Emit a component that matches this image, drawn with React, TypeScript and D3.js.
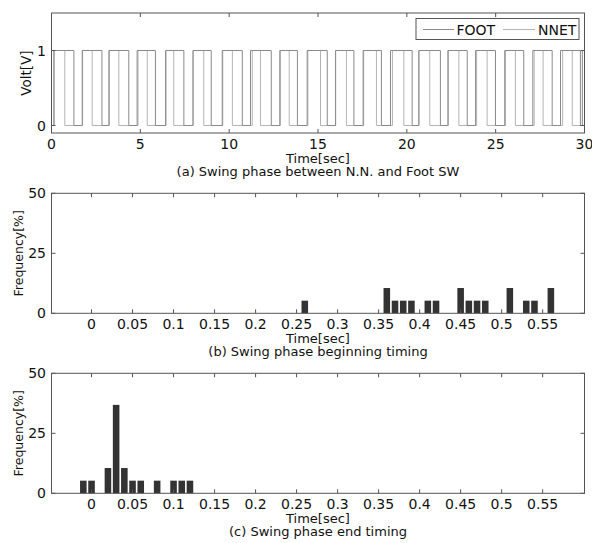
import React from "react";
import * as d3 from "d3";

// ---- Panel (a) data: square-wave edge times [sec] ----
const footRise = [0.13, 1.73, 3.23, 4.82, 6.42, 7.97, 9.61, 11.2, 12.85, 14.39, 15.99, 17.54, 19.08, 20.67, 22.31, 23.87, 25.51, 27.09, 28.65, 29.88];
const footFall = [1.26, 2.84, 4.35, 5.85, 7.45, 8.99, 10.74, 12.37, 13.84, 15.52, 17.02, 18.57, 20.3, 21.89, 23.4, 24.99, 26.58, 28.18, 29.77, 30];
const nnetRise = [0.16, 1.75, 3.26, 4.87, 6.45, 7.96, 9.64, 11.3, 12.88, 14.43, 15.99, 17.57, 19.19, 20.69, 22.34, 23.93, 25.55, 27.17, 28.77];
const nnetFall = [0.75, 2.29, 3.79, 5.39, 6.88, 8.57, 10.18, 11.76, 13.38, 15.14, 16.6, 18.29, 19.83, 21.29, 22.93, 24.52, 26.11, 27.67, 29.31];
const voltTicks = [0, 1];
const timeTicksA = [0, 5, 10, 15, 20, 25, 30];

// ---- Panel (b) data ----
const beginBins = [0.26, 0.36, 0.37, 0.38, 0.39, 0.41, 0.42, 0.45, 0.46, 0.47, 0.48, 0.51, 0.53, 0.54, 0.56];
const beginFreq = [5.26, 10.53, 5.26, 5.26, 5.26, 5.26, 5.26, 10.53, 5.26, 5.26, 5.26, 10.53, 5.26, 5.26, 10.53];

// ---- Panel (c) data ----
const endBins = [-0.01, 0, 0.02, 0.03, 0.04, 0.05, 0.06, 0.08, 0.1, 0.11, 0.12];
const endFreq = [5.26, 5.26, 10.53, 36.84, 10.53, 5.26, 5.26, 5.26, 5.26, 5.26, 5.26];

const freqTicks = [0, 25, 50];
const timeTicksH = [0, 0.05, 0.1, 0.15, 0.2, 0.25, 0.3, 0.35, 0.4, 0.45, 0.5, 0.55];

const FONT = "'DejaVu Sans', 'Liberation Sans', sans-serif";
const BOX = "#555";
const LEFT = 51.5;
const RIGHT = 584.5;
const TICK = 4;

function stepPoints(rise: number[], fall: number[]): [number, number][] {
  const pts: [number, number][] = [[0, 0]];
  rise.forEach((r, i) => {
    const f = fall[i];
    pts.push([r, 0], [r, 1], [f, 1], [f, 0]);
  });
  pts.push([30, 0]);
  return pts;
}

function Frame({ x, y, top, bottom, xTicks, yTicks, xFmt, yLabel, caption }: any) {
  return (
    <g>
      <rect x={LEFT} y={top} width={RIGHT - LEFT} height={bottom - top} fill="none" stroke={BOX} strokeWidth={1} />
      {xTicks.map((t: number, i: number) => (
        <g key={"xt" + i}>
          <line x1={x(t)} x2={x(t)} y1={bottom} y2={bottom - TICK} stroke={BOX} />
          <line x1={x(t)} x2={x(t)} y1={top} y2={top + TICK} stroke={BOX} />
          <text x={x(t)} y={bottom + 15.5} textAnchor="middle" fontSize={14} fontFamily={FONT} fill="#111">
            {xFmt(t)}
          </text>
        </g>
      ))}
      {yTicks.map((t: number, i: number) => (
        <g key={"yt" + i}>
          <line x1={LEFT} x2={LEFT + TICK} y1={y(t)} y2={y(t)} stroke={BOX} />
          <line x1={RIGHT} x2={RIGHT - TICK} y1={y(t)} y2={y(t)} stroke={BOX} />
          <text x={46} y={y(t) + 5} textAnchor="end" fontSize={14} fontFamily={FONT} fill="#111">
            {t}
          </text>
        </g>
      ))}
      <text
        transform={`translate(${yLabel.x},${(top + bottom) / 2}) rotate(-90)`}
        textAnchor="middle"
        fontSize={yLabel.size}
        fontFamily={FONT}
        fill="#111"
      >
        {yLabel.text}
      </text>
      <text x={(LEFT + RIGHT) / 2} y={bottom + 29.5} textAnchor="middle" fontSize={13} fontFamily={FONT} fill="#111">
        Time[sec]
      </text>
      <text x={(LEFT + RIGHT) / 2} y={bottom + 43} textAnchor="middle" fontSize={13} fontFamily={FONT} fill="#111">
        {caption}
      </text>
    </g>
  );
}

function Hist({ top, bottom, bins, freq, caption }: any) {
  const x = d3.scaleLinear().domain([-0.0488, 0.601]).range([LEFT, RIGHT]);
  const y = d3.scaleLinear().domain([0, 50]).range([bottom, top]);
  const binW = 0.01;
  const barW = (x(binW) - x(0)) * 0.8;
  return (
    <g>
      {bins.map((b: number, i: number) => (
        <rect key={i} x={x(b) - barW / 2} y={y(freq[i])} width={barW} height={y(0) - y(freq[i])} fill="#333" />
      ))}
      <Frame
        x={x}
        y={y}
        top={top}
        bottom={bottom}
        xTicks={timeTicksH}
        yTicks={freqTicks}
        xFmt={(t: number) => d3.format("~g")(+t.toFixed(2))}
        yLabel={{ x: 23, text: "Frequency[%]", size: 12.5 }}
        caption={caption}
      />
    </g>
  );
}

export default function App() {
  const topA = 13;
  const bottomA = 133;
  const xA = d3.scaleLinear().domain([0, 30]).range([LEFT, RIGHT]);
  const yA = d3.scaleLinear().domain([-0.1, 1.5]).range([bottomA, topA]);
  const line = d3
    .line<[number, number]>()
    .x((d) => xA(d[0]))
    .y((d) => yA(d[1]));
  const footPath = line(stepPoints(footRise, footFall)) || "";
  const nnetPath = line(stepPoints(nnetRise, nnetFall)) || "";

  return (
    <svg width={592} height={543} style={{ position: "absolute", left: 0, top: 0, background: "#fff" }}>
      <rect width={592} height={543} fill="#fff" />
      {/* Panel (a) */}
      <defs>
        <clipPath id="clipA">
          <rect x={LEFT} y={topA} width={RIGHT - LEFT} height={bottomA - topA} />
        </clipPath>
      </defs>
      <g clipPath="url(#clipA)">
        <path d={nnetPath} fill="none" stroke="#b4b4b4" strokeWidth={1} />
        <path d={footPath} fill="none" stroke="#8a8a8a" strokeWidth={1} />
      </g>
      <Frame
        x={xA}
        y={yA}
        top={topA}
        bottom={bottomA}
        xTicks={timeTicksA}
        yTicks={voltTicks}
        xFmt={(t: number) => String(t)}
        yLabel={{ x: 31, text: "Volt[V]", size: 13.5 }}
        caption="(a) Swing phase between N.N. and Foot SW"
      />
      {/* legend */}
      <g>
        <rect x={416} y={18.5} width={163} height={21} fill="#fff" stroke={BOX} strokeWidth={1} />
        <line x1={423} x2={454} y1={29.5} y2={29.5} stroke="#8a8a8a" />
        <text x={456.5} y={34.5} fontSize={14} fontFamily={FONT} fill="#111">FOOT</text>
        <line x1={503} x2={535} y1={29.5} y2={29.5} stroke="#b4b4b4" />
        <text x={538} y={34.5} fontSize={14} fontFamily={FONT} fill="#111">NNET</text>
      </g>
      {/* Panel (b) */}
      <Hist top={193.3} bottom={313.3} bins={beginBins} freq={beginFreq} caption="(b) Swing phase beginning timing" />
      {/* Panel (c) */}
      <Hist top={373.3} bottom={493.3} bins={endBins} freq={endFreq} caption="(c) Swing phase end timing" />
    </svg>
  );
}
